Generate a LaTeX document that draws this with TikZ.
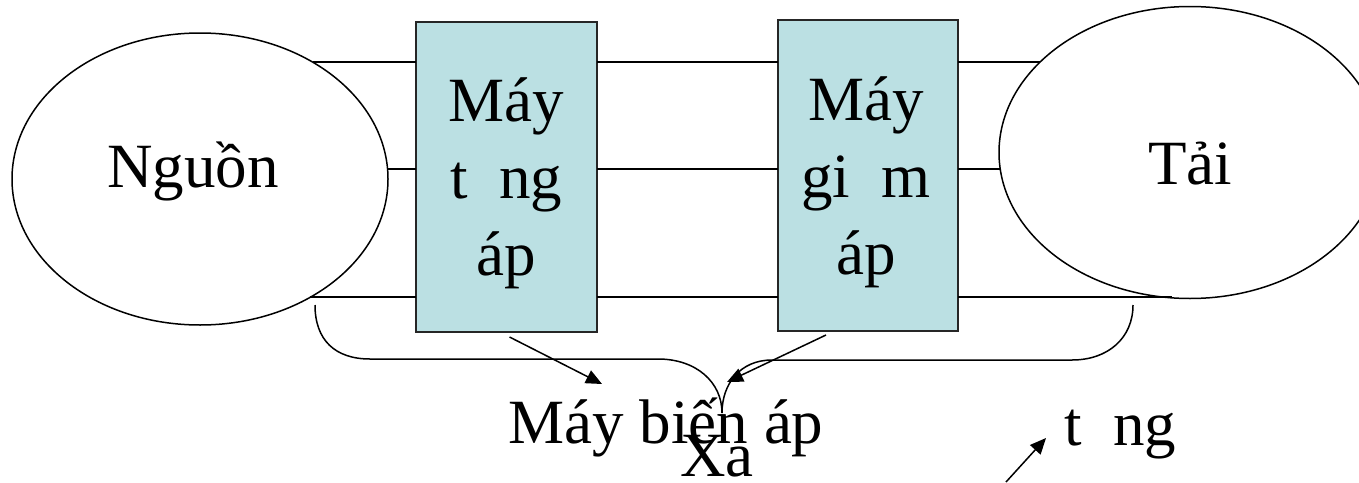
\documentclass[tikz,border=0pt]{standalone}
\usepackage{fontspec}
\setmainfont{Liberation Serif}
\usetikzlibrary{arrows.meta,shapes.geometric}
\definecolor{boxfill}{HTML}{BBE0E3}
\begin{document}
\begin{tikzpicture}[x=0.5pt,y=-0.5pt,
  every node/.style={font=\fontsize{31.5pt}{38.5pt}\selectfont},
  oval/.style={draw, ellipse, inner sep=0pt, outer sep=0pt, line width=0.75pt},
  trafo/.style={draw=black!85, fill=boxfill, inner sep=0pt, outer sep=0pt, line width=0.9pt},
  boxtext/.style={inner sep=0pt, align=center},
  wire/.style={line width=1pt},
  bracket/.style={line width=0.75pt},
  lbl/.style={anchor=base, inner sep=0pt},
  pointer/.style={line width=0.75pt, -{Triangle[length=8pt,width=7pt]}},
]
\useasboundingbox (0,0) rectangle (1359,482);
% source and load
\node[oval, minimum width=188pt, minimum height=146pt] (src) at (200,179) {};
\node[oval, minimum width=191pt, minimum height=146pt] (load) at (1190,152.5) {};
% transformers
\node[trafo, minimum width=90.5pt, minimum height=155pt] (up) at (506.5,177) {};
\node[trafo, minimum width=90pt, minimum height=155.5pt] (down) at (868,175.5) {};
\node[boxtext] (uptext) at ([shift={(0,6)}]up.center) {Máy\\t\ \ ng\\áp};
\node[boxtext] (downtext) at ([shift={(-2,7)}]down.center) {Máy\\gi\ \ m\\áp};
% labels
\node[lbl] (nguon) at (193,187) {Nguồn};
\node[lbl] (tai) at (1190,184) {Tải};
\node[lbl] (mba) at (666,443) {Máy biến áp};
\node[lbl] (xa) at (717,476) {Xa};
\node[lbl] (tng) at (1120,445) {t\ \ ng};
% wires
\draw[wire] (src.46) -- (up.west |- src.46) (up.east |- src.46) -- (down.west |- src.46) (down.east |- src.46) -- (load.149 |- src.46);
\draw[wire] (src.3.66) -- (up.west |- src.3.66) (up.east |- src.3.66) -- (down.west |- src.3.66) (down.east |- src.3.66) -- (load.184.4 |- src.3.66);
\draw[wire] (src.-47.5) -- (up.west |- src.-47.5) (up.east |- src.-47.5) -- (down.west |- src.-47.5) (down.east |- src.-47.5) -- (load.263.8 |- src.-47.5);
% bracket
\draw[bracket] (315,305) .. controls (315,340) and (335,359) .. (370,359) -- (658,359)
  .. controls (696,359) and (722,382) .. (722,413)
  .. controls (722,384) and (740,360) .. (772,360) -- (1072,360)
  .. controls (1108,360) and (1133,338) .. (1133,305);
% pointers
\coordinate (t1) at (602,384);
\coordinate (t2) at (727,382);
\coordinate (s3) at (1006,482);
\coordinate (t3) at (1046,438);
\draw[pointer] ([shift={(3,5)}]up.south) -- (t1);
\draw[pointer] ([shift={(-42,4)}]down.south) -- (t2);
\draw[pointer] (s3) -- (t3);
\end{tikzpicture}
\end{document}
